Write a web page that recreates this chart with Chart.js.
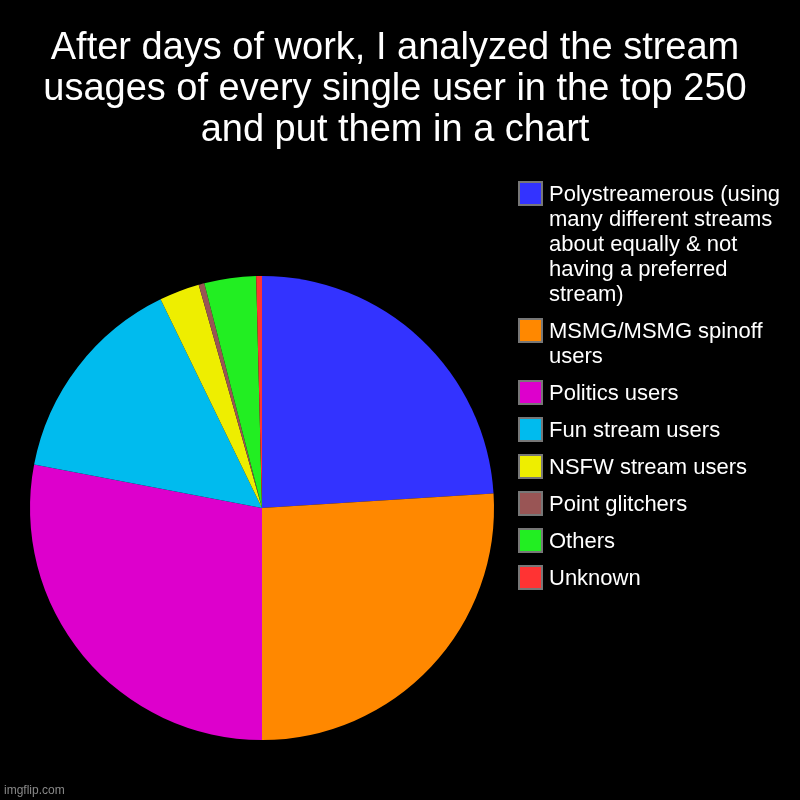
<!DOCTYPE html>
<html>
<head>
<meta charset="utf-8">
<script src="https://cdn.jsdelivr.net/npm/chart.js@4"></script>
<style>
  html, body { margin: 0; padding: 0; background: #000; }
  #wrap { position: relative; width: 800px; height: 800px; background: #000; overflow: hidden; }
  #pie { position: absolute; left: 0; top: 0; }
  #title {
    position: absolute; left: 0; top: 26px; width: 790px;
    text-align: center; color: #fff;
    font-family: "Liberation Sans", Arial, sans-serif;
    font-size: 38px; line-height: 41px;
  }
  #legend {
    position: absolute; left: 518px; top: 181px; width: 280px;
    font-family: "Liberation Sans", Arial, sans-serif;
    font-size: 22px; line-height: 25px; color: #fff;
  }
  .item { display: flex; align-items: flex-start; margin-bottom: 12px; }
  .box { width: 21px; height: 21px; border: 2px solid #777; flex: none; }
  .label { margin-left: 6px; width: 242px; }
  #mark {
    position: absolute; left: 4px; top: 783px; color: #888;
    font-family: "Liberation Sans", Arial, sans-serif; font-size: 12px;
  }
</style>
</head>
<body>
<div id="wrap">
  <canvas id="pie" width="800" height="800"></canvas>
  <div id="title">After days of work, I analyzed the stream<br>usages of every single user in the top 250<br>and put them in a chart</div>
  <div id="legend"></div>
  <div id="mark">imgflip.com</div>
</div>
<script>
// 카테고리와 값 (250명 기준)
const categories = [
  'Polystreamerous (using many different streams about equally & not having a preferred stream)',
  'MSMG/MSMG spinoff users',
  'Politics users',
  'Fun stream users',
  'NSFW stream users',
  'Point glitchers',
  'Others',
  'Unknown'
];
const userCounts = [60, 65, 70, 37, 7, 1, 9, 1];
const sliceColors = ['#3333ff', '#ff8800', '#dd00cc', '#00bbee', '#eeee00', '#995555', '#22ee22', '#ff3333'];

// 범례 만들기
const legendEl = document.getElementById('legend');
categories.forEach((name, i) => {
  const item = document.createElement('div');
  item.className = 'item';
  const box = document.createElement('div');
  box.className = 'box';
  box.style.background = sliceColors[i];
  const label = document.createElement('div');
  label.className = 'label';
  label.textContent = name;
  item.appendChild(box);
  item.appendChild(label);
  legendEl.appendChild(item);
});

// 파이 차트
const ctx = document.getElementById('pie').getContext('2d');
new Chart(ctx, {
  type: 'pie',
  data: {
    labels: categories,
    datasets: [{
      data: userCounts,
      backgroundColor: sliceColors,
      borderWidth: 0,
      hoverOffset: 0,
      offset: 0
    }]
  },
  options: {
    responsive: false,
    animation: false,
    layout: {
      padding: { left: 30, top: 276, right: 306, bottom: 60 }
    },
    plugins: {
      legend: { display: false },
      title: { display: false },
      tooltip: { enabled: false }
    }
  }
});
</script>
</body>
</html>
